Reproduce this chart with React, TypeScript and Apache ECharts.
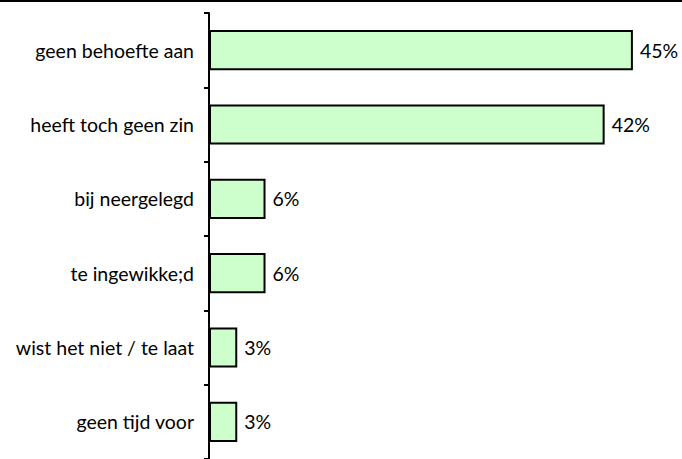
import React, { useEffect, useRef } from "react";
import * as echarts from "echarts";

const categories = [
  "geen behoefte aan",
  "heeft toch geen zin",
  "bij neergelegd",
  "te ingewikke;d",
  "wist het niet / te laat",
  "geen tijd voor",
];
const values = [45, 42, 6, 6, 3, 3];

export default function App() {
  const ref = useRef<HTMLDivElement>(null);
  useEffect(() => {
    if (!ref.current) return;
    const chart = echarts.init(ref.current, null, { renderer: "svg" });
    chart.setOption({
      animation: false,
      grid: { left: 209, right: 2, top: 13, bottom: 0, containLabel: false },
      xAxis: {
        type: "value",
        min: 0,
        max: 50,
        show: false,
      },
      yAxis: {
        type: "category",
        data: categories,
        inverse: true,
        axisLine: { show: true, lineStyle: { color: "#000", width: 2 } },
        axisTick: { show: true, length: 5, lineStyle: { color: "#000", width: 2 } },
        axisLabel: {
          color: "#000",
          fontFamily: "Lato",
          fontSize: 19.5,
          margin: 15,
        },
      },
      graphic: [
        {
          type: "line",
          shape: { x1: 0, y1: 1, x2: 682, y2: 1 },
          style: { stroke: "#000", lineWidth: 2 },
        },
      ],
      series: [
        {
          type: "bar",
          data: values,
          barCategoryGap: "46%",
          itemStyle: { color: "#CCFFCC", borderColor: "#000", borderWidth: 2 },
          label: {
            show: true,
            position: "right",
            distance: 7,
            formatter: "{c}%",
            color: "#000",
            fontFamily: "Lato",
            fontSize: 19.5,
          },
        },
      ],
    });
    return () => chart.dispose();
  }, []);
  return (
    <div
      ref={ref}
      style={{ position: "fixed", left: 0, top: 0, width: 682, height: 459, background: "#fff" }}
    />
  );
}
